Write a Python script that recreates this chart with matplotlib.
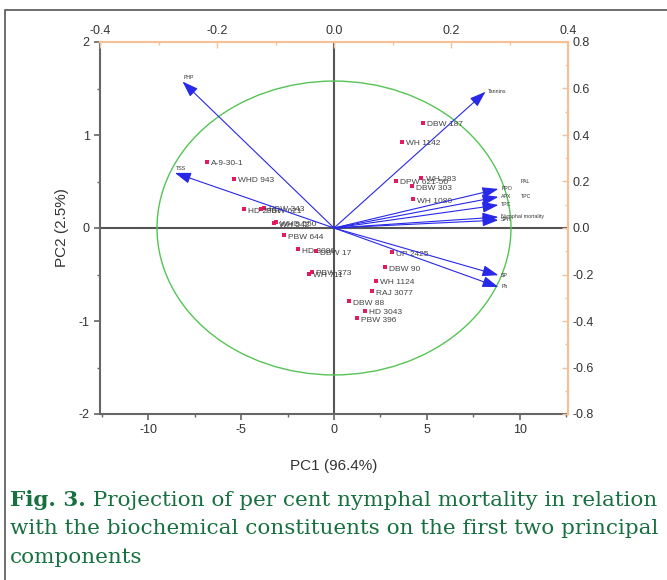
import matplotlib
matplotlib.use("Agg")
import matplotlib.pyplot as plt
from matplotlib.patches import Ellipse, Rectangle
from matplotlib.ticker import MultipleLocator, FormatStrFormatter

plt.rcParams["font.family"] = ["Liberation Sans", "DejaVu Sans"]
plt.rcParams["axes.unicode_minus"] = False

# ---- data: genotype scores (PC1, PC2) ----
genotypes = ["A-9-30-1", "WHD 943", "HD 2967", "PBW 621", "PBW 343", "WH 542",
             "WHD 550", "PBW 644", "HD 3086", "DBW 17", "WH 711", "PBW 373",
             "DBW 187", "WH 1142", "DPW 621-50", "WH 283", "DBW 303", "WH 1080",
             "UP 2425", "DBW 90", "WH 1124", "RAJ 3077", "DBW 88", "HD 3043", "PBW 396"]
pc1 = [-6.86, -5.41, -4.87, -3.91, -3.75, -3.21, -3.11, -2.68, -1.93, -0.96, -1.34, -1.18,
       4.77, 3.64, 3.32, 4.71, 4.18, 4.23, 3.11, 2.73, 2.25, 2.04, 0.80, 1.66, 1.23]
pc2 = [0.71, 0.53, 0.20, 0.20, 0.22, 0.05, 0.06, -0.08, -0.23, -0.25, -0.49, -0.47,
       1.13, 0.93, 0.51, 0.54, 0.45, 0.31, -0.26, -0.42, -0.57, -0.68, -0.79, -0.89, -0.97]

# ---- data: variable loadings ----
variables = ["PHP", "TSS", "Tannins", "PPO", "APX", "TPC", "Nymphal mortality", "SPH",
             "SP", "Ph"]
load1 = [-0.259, -0.272, 0.259, 0.281, 0.281, 0.281, 0.281, 0.281, 0.281, 0.281]
load2 = [0.630, 0.237, 0.586, 0.168, 0.134, 0.099, 0.047, 0.034, -0.203, -0.254]
side_labels = ["PAL", "TPC"]

W, H = 667, 580
fig = plt.figure(figsize=(W / 100, H / 100), dpi=100)
fig.patch.set_facecolor("white")

def fx(px):
    return px / W

def fy(py):
    return 1 - py / H

# figure border
fig.add_artist(Rectangle((fx(5), fy(700)), 2.0, fy(10) - fy(700), transform=fig.transFigure,
                         fill=False, edgecolor="#555555", lw=1.2))

left, right, top, bottom = 100, 568, 42, 414
pos = [fx(left), fy(bottom), fx(right) - fx(left), fy(top) - fy(bottom)]

ax = fig.add_axes(pos)
ax.set_xlim(-12.6, 12.6)
ax.set_ylim(-2, 2)
ax.set_facecolor("white")

gray = "#666666"
orange = "#f6bf94"
for s in ["left", "bottom"]:
    ax.spines[s].set_color(gray)
    ax.spines[s].set_linewidth(1.5)
ax.spines["top"].set_visible(False)
ax.spines["right"].set_visible(False)

ax.xaxis.set_major_locator(MultipleLocator(5))
ax.xaxis.set_minor_locator(MultipleLocator(2.5))
ax.yaxis.set_major_locator(MultipleLocator(1))
ax.yaxis.set_minor_locator(MultipleLocator(0.5))
ax.tick_params(axis="both", which="major", direction="out", length=4, width=1.2,
               color=gray, labelsize=9, labelcolor="#333333")
ax.tick_params(axis="both", which="minor", direction="out", length=2.5, width=1,
               color=gray)
ax.set_xlabel("PC1 (96.4%)", fontsize=11, color="#333333", labelpad=16)
ax.set_ylabel("PC2 (2.5%)", fontsize=11, color="#333333", labelpad=7)

# zero lines
ax.axhline(0, color="#555555", lw=1.5, zorder=1)
ax.axvline(0, color="#555555", lw=1.5, zorder=1)

# correlation ellipse
ax.add_patch(Ellipse((0, 0), 2 * 9.53, 2 * 1.58, fill=False, edgecolor="#55c455", lw=1.0,
                     zorder=2))

# genotype scores
ax.scatter(pc1, pc2, marker="s", s=8, color="#e6195a", zorder=4, linewidths=0)
for g, x, y in zip(genotypes, pc1, pc2):
    ax.annotate(g, (x, y), xytext=(3, -2.5), textcoords="offset points", fontsize=6,
                color="#444444", zorder=4)

# loadings axis
axl = fig.add_axes(pos, frameon=True)
axl.set_xlim(-0.4, 0.4)
axl.set_ylim(-0.8, 0.8)
axl.patch.set_visible(False)
for s in ["left", "bottom"]:
    axl.spines[s].set_visible(False)
for s in ["top", "right"]:
    axl.spines[s].set_color(orange)
    axl.spines[s].set_linewidth(1.5)
axl.xaxis.tick_top()
axl.yaxis.tick_right()
axl.xaxis.set_major_locator(MultipleLocator(0.2))
axl.xaxis.set_minor_locator(MultipleLocator(0.1))
axl.yaxis.set_major_locator(MultipleLocator(0.2))
axl.yaxis.set_minor_locator(MultipleLocator(0.1))
axl.tick_params(axis="both", which="major", direction="in", length=4, width=1,
                color=orange, labelsize=9, labelcolor="#333333")
axl.tick_params(axis="both", which="minor", direction="in", length=2, width=1,
                color=orange)
axl.xaxis.set_major_formatter(FormatStrFormatter("%.1f"))
axl.yaxis.set_major_formatter(FormatStrFormatter("%.1f"))

for v, lx, ly in zip(variables, load1, load2):
    axl.annotate("", xy=(lx, ly), xytext=(0, 0),
                 arrowprops=dict(arrowstyle="-|>,head_length=0.75,head_width=0.26",
                                 color="#2828e8", lw=0.8, mutation_scale=13,
                                 shrinkA=0, shrinkB=0), zorder=3)
    dx = 2 if lx > 0 else 1
    axl.annotate(v, (lx, ly), xytext=(dx, 2 if lx < 0 else -1), textcoords="offset points",
                 fontsize=3.8, color="#333333", zorder=5)
axl.annotate(side_labels[0], (load1[3], load2[3]), xytext=(16, 4), textcoords="offset points",
             fontsize=3.8, color="#333333")
axl.annotate(side_labels[1], (load1[4], load2[4]), xytext=(16, -1), textcoords="offset points",
             fontsize=3.8, color="#333333")

# caption
green = "#17703f"
capfont = "DejaVu Serif"
cap_lines = [("Fig. 3.", " Projection of per cent nymphal mortality in relation"),
             (None, "with the biochemical constituents on the first two principal"),
             (None, "components")]
renderer = fig.canvas.get_renderer()
fs = 14.0
target = 658 - 10
tb = fig.text(0, 0, cap_lines[0][0], fontsize=fs, fontweight="bold", family=capfont)
tr = fig.text(0, 0, cap_lines[0][1], fontsize=fs, family=capfont)
wtot = tb.get_window_extent(renderer).width + tr.get_window_extent(renderer).width
tb.remove()
tr.remove()
fs = fs * target / wtot
y0 = 506
for i, (b, rest) in enumerate(cap_lines):
    ypx = y0 + i * 28.5
    x = fx(10)
    if b:
        t = fig.text(x, fy(ypx), b, fontsize=fs, fontweight="bold", color=green,
                     family=capfont, va="baseline")
        bb = t.get_window_extent(renderer)
        x = fx(bb.x1)
    fig.text(x, fy(ypx), rest, fontsize=fs, color=green, family=capfont,
             va="baseline")

fig.savefig("out.png", dpi=100)
